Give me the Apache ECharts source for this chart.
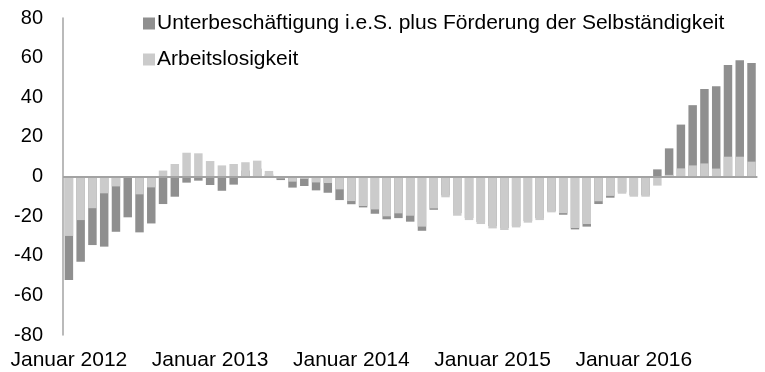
<!DOCTYPE html>
<html>
<head>
<meta charset="utf-8">
<script src="https://cdn.jsdelivr.net/npm/echarts@6/dist/echarts.min.js"></script>
<style>
  html, body { margin: 0; padding: 0; background: #fff; }
  #chart { width: 765px; height: 372px; }
</style>
</head>
<body>
<div id="chart"></div>
<script>
// Monthly change vs. previous year, in thousands, Januar 2012 – November 2016
const monthNames = ['Januar', 'Februar', 'März', 'April', 'Mai', 'Juni',
  'Juli', 'August', 'September', 'Oktober', 'November', 'Dezember'];
const years = [2012, 2013, 2014, 2015, 2016];
const monthCount = 59;

const seriesNames = [
  'Unterbeschäftigung i.e.S. plus Förderung der Selbständigkeit',
  'Arbeitslosigkeit'
];

const underemployment = [
  -52.3, -43, -34.6, -35.4, -27.9, -20.6, -28.2, -23.7, -13.9, -10.2, -3.1, -2.1,
  -4.3, -7.2, -4.1, 3, 4, 1, -1.8, -5.6, -4.8, -7, -8.2, -11.9,
  -14, -15.6, -18.8, -21.6, -21, -22.8, -27.4, -16.8, -9.5, -18.5, -21, -23,
  -25, -26, -25, -22.5, -21, -17.5, -19.3, -26.7, -25.3, -13.9, -10.7, -8,
  -9.5, -9.5, 3.6, 14.2, 26.2, 36, 44.2, 45.5, 56.3, 58.7, 57.3
];

const unemployment = [
  -30, -22, -16, -8.5, -5, 0, -9, -5.5, 3, 6.3, 12, 11.7,
  7.8, 5.6, 6.3, 7.2, 8, 2.8, -1, -2.6, -1.2, -3, -3.3, -6.5,
  -12.4, -14.9, -16.6, -20.1, -18.6, -19.8, -25.3, -16.1, -10.5, -19.8, -22, -24,
  -26.2, -27, -25.7, -23.3, -22, -18.1, -18.5, -26, -24, -12.5, -9.8, -8.7,
  -10.2, -10.2, -4.6, 0.8, 4.1, 5.6, 6.6, 4, 10, 10, 7.5
];

const yTicks = { min: -80, max: 80, step: 20 };

const categories = [];
for (let i = 0; i < monthCount; i++) {
  categories.push(monthNames[i % 12] + ' ' + years[Math.floor(i / 12)]);
}

const FONT = '"Liberation Sans", Arial, Helvetica, sans-serif';
const DARK = '#8f8f8f';
const LIGHT = '#cbcbcb';
const AXIS = '#a3a3a3';

const chart = echarts.init(document.getElementById('chart'), null, { renderer: 'canvas' });

chart.setOption({
  animation: false,
  backgroundColor: '#ffffff',
  textStyle: { fontFamily: FONT },
  grid: { left: 63, right: 7.6, top: 18, bottom: 37, containLabel: false },
  legend: {
    orient: 'vertical',
    left: 138,
    top: 8,
    itemWidth: 12,
    itemHeight: 12,
    itemGap: 15,
    icon: 'rect',
    selectedMode: false,
    data: seriesNames,
    textStyle: { fontFamily: FONT, fontSize: 21, color: '#000', padding: [0, 0, 0, -3], lineHeight: 21 }
  },
  xAxis: {
    type: 'category',
    data: categories,
    boundaryGap: true,
    axisLine: { show: false },
    axisTick: { show: false },
    splitLine: { show: false },
    axisLabel: {
      interval: 11,
      margin: 15,
      fontFamily: FONT,
      fontSize: 21,
      color: '#000',
      hideOverlap: false
    }
  },
  yAxis: {
    type: 'value',
    min: yTicks.min,
    max: yTicks.max,
    interval: yTicks.step,
    axisLine: { show: true, lineStyle: { color: AXIS, width: 1.5 } },
    axisTick: { show: false },
    splitLine: { show: false },
    axisLabel: { margin: 20, fontFamily: FONT, fontSize: 20, color: '#000' }
  },
  series: [
    {
      name: seriesNames[0],
      type: 'bar',
      data: underemployment,
      barWidth: '72%',
      barGap: '-100%',
      itemStyle: { color: DARK },
      markLine: {
        silent: true,
        symbol: 'none',
        label: { show: false },
        lineStyle: { color: AXIS, width: 2, type: 'solid' },
        data: [{ yAxis: 0 }]
      },
      z: 2
    },
    {
      name: seriesNames[1],
      type: 'bar',
      data: unemployment,
      barWidth: '72%',
      barGap: '-100%',
      itemStyle: { color: LIGHT },
      z: 3
    }
  ]
});
</script>
</body>
</html>
